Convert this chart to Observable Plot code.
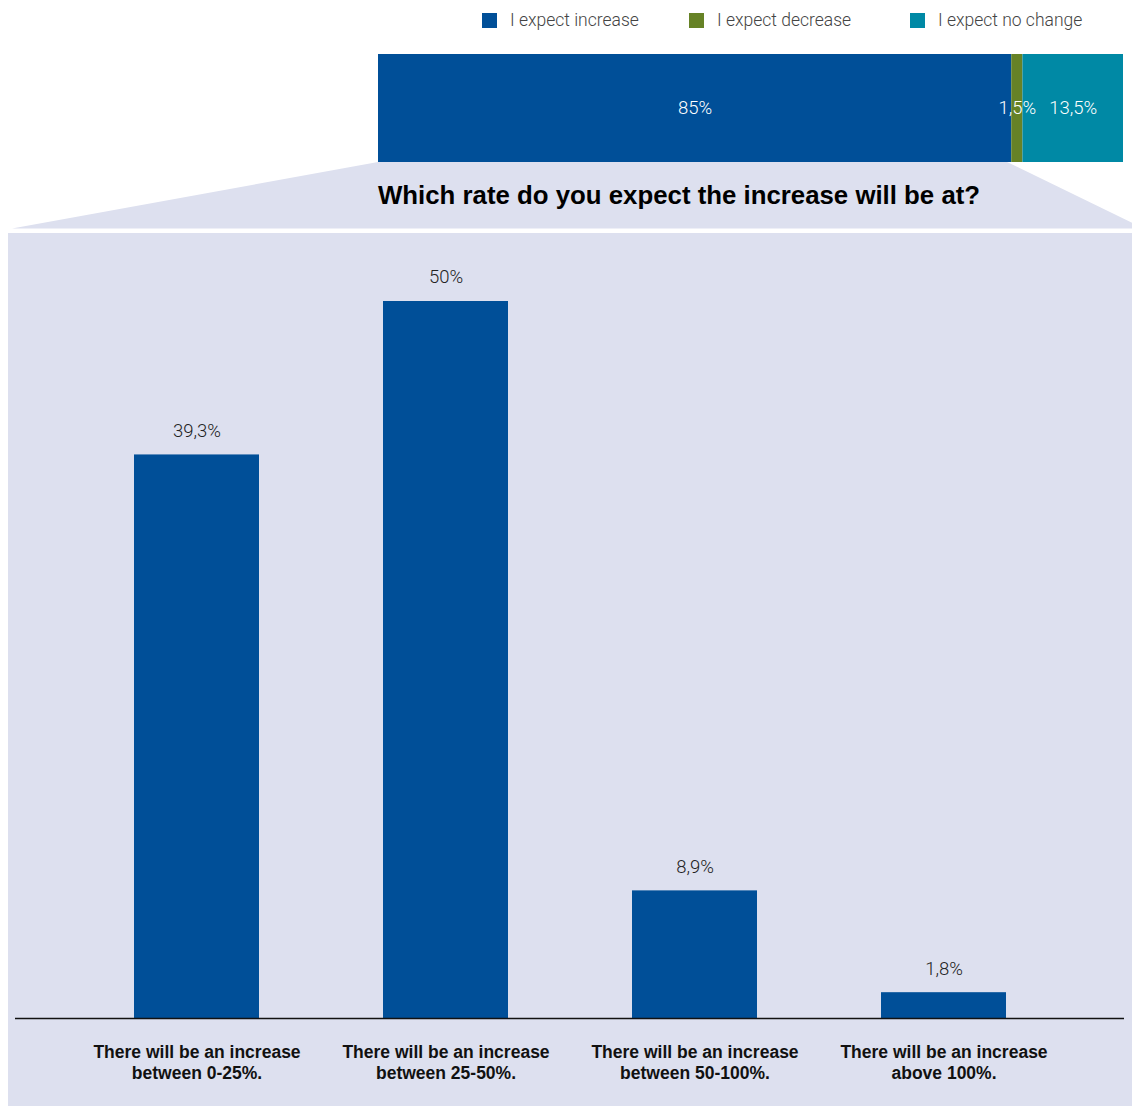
<!DOCTYPE html>
<html>
<head>
<meta charset="utf-8">
<script src="https://cdn.jsdelivr.net/npm/d3@7"></script>
<script src="https://cdn.jsdelivr.net/npm/@observablehq/plot@0.6"></script>
<style>
  html, body { margin: 0; padding: 0; background: #ffffff; }
  #wrap { position: relative; width: 1132px; height: 1106px; overflow: hidden; font-family: Roboto, "Liberation Sans", sans-serif; }
  #legend { position: absolute; top: 0; left: 0; width: 1132px; height: 40px; }
  .item { position: absolute; top: 8px; display: flex; align-items: center; height: 24px; }
  .sw { width: 15px; height: 15px; margin-right: 13px; }
  .lt { font-family: Roboto, sans-serif; font-weight: 300; font-size: 17.5px; color: #444; white-space: nowrap; }
  #trap { position: absolute; left: 0; top: 0; width: 1132px; height: 229px; background: #dde0ef;
          clip-path: polygon(378px 162px, 1007px 162px, 1144px 228.5px, 12px 228.5px); }
  #topplot { position: absolute; left: 0; top: 0; }
  #title { position: absolute; left: 378px; top: 182px; font-family: "Liberation Sans", Arial, sans-serif;
           font-weight: bold; font-size: 25.8px; line-height: 26px; color: #000; white-space: nowrap; }
  #bottomplot { position: absolute; left: 8px; top: 233px; }
</style>
</head>
<body>
<div id="wrap">
  <div id="trap"></div>
  <div id="legend"></div>
  <div id="topplot"></div>
  <div id="title"></div>
  <div id="bottomplot"></div>
</div>
<script>
// ---- Data ----
const answers = ["I expect increase", "I expect decrease", "I expect no change"];
const shares = [85, 1.5, 13.5];
const shareLabels = ["85%", "1,5%", "13,5%"];
const answerColors = ["#004f98", "#668226", "#0089a5"];

const titleText = "Which rate do you expect the increase will be at?";

const rates = [
  "There will be an increase\nbetween 0-25%.",
  "There will be an increase\nbetween 25-50%.",
  "There will be an increase\nbetween 50-100%.",
  "There will be an increase\nabove 100%."
];
const rateValues = [39.3, 50, 8.9, 1.8];
const rateLabels = ["39,3%", "50%", "8,9%", "1,8%"];

// ---- Legend ----
const legendLefts = [482, 689, 910];
const legend = document.getElementById("legend");
answers.forEach((a, i) => {
  const it = document.createElement("div");
  it.className = "item";
  it.style.left = legendLefts[i] + "px";
  const sw = document.createElement("div");
  sw.className = "sw";
  sw.style.background = answerColors[i];
  const t = document.createElement("span");
  t.className = "lt";
  t.textContent = a;
  it.appendChild(sw);
  it.appendChild(t);
  legend.appendChild(it);
});

// ---- Top stacked bar ----
const topData = answers.map((a, i) => ({answer: a, share: shares[i], label: shareLabels[i]}));
const topPlot = Plot.plot({
  width: 1132,
  height: 170,
  marginTop: 54,
  marginBottom: 8,
  marginLeft: 378,
  marginRight: 9,
  x: {domain: [0, 100], axis: null},
  color: {domain: answers, range: answerColors},
  style: {background: "transparent", fontFamily: "Roboto, sans-serif"},
  marks: [
    Plot.barX(topData, Plot.stackX({x: "share", fill: "answer"})),
    Plot.text(topData, Plot.stackX({x: "share", text: "label", fill: "white", fontSize: 18.5, fontWeight: 300}))
  ]
});
document.getElementById("topplot").appendChild(topPlot);

document.getElementById("title").textContent = titleText;

// ---- Bottom bar chart ----
const rateData = rates.map((r, i) => ({rate: r, value: rateValues[i], label: rateLabels[i]}));
const bottomPlot = Plot.plot({
  width: 1124,
  height: 873,
  marginTop: 68,
  marginBottom: 88,
  marginLeft: 7,
  marginRight: 8,
  x: {domain: rates, paddingInner: 0.5, paddingOuter: 0.474, label: null},
  y: {domain: [0, 50], axis: null},
  style: {background: "#dde0ef", fontFamily: "Roboto, sans-serif"},
  marks: [
    Plot.barY(rateData, {x: "rate", y: "value", fill: answerColors[0]}),
    Plot.ruleY([0], {stroke: "#111", strokeWidth: 1.5}),
    Plot.text(rateData, {x: "rate", y: "value", text: "label", dy: -24, fontSize: 18.5, fontWeight: 300, fill: "#222"}),
    Plot.axisX({
      tickSize: 0,
      tickPadding: 24,
      fontSize: 17.5,
      fontWeight: "bold",
      fontFamily: "'Liberation Sans', Arial, sans-serif",
      lineHeight: 1.23,
      fill: "#111",
      label: null
    })
  ]
});
document.getElementById("bottomplot").appendChild(bottomPlot);
</script>
</body>
</html>
